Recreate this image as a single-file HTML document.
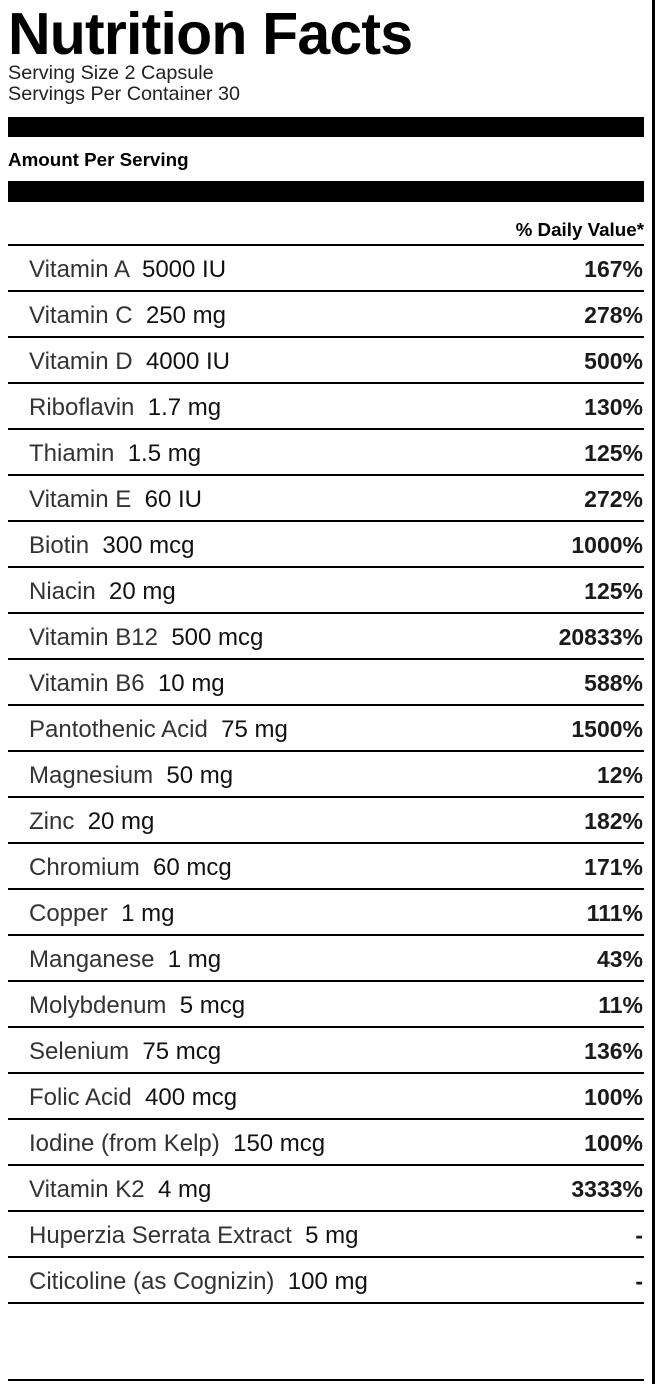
<!DOCTYPE html>
<html>
<head>
<meta charset="utf-8">
<style>
  html,body{margin:0;padding:0;background:#fff;}
  body{width:658px;height:1384px;position:relative;overflow:hidden;font-family:"Liberation Sans",Arial,sans-serif;}
  .abs{position:absolute;white-space:nowrap;}
  .title{left:8px;top:5px;font-size:59px;line-height:59px;font-weight:bold;letter-spacing:-0.8px;color:#000;}
  .sub{left:8px;font-size:19.8px;line-height:20px;color:#222;}
  .bar{position:absolute;left:8px;width:636px;background:#000;}
  .line{position:absolute;left:8px;width:636px;height:2px;background:#000;}
  .hdr{font-weight:bold;color:#000;}
  .row{position:absolute;left:8px;width:636px;height:44px;line-height:44px;}
  .name{position:absolute;left:21px;top:2px;font-size:24px;color:#333;white-space:pre;}
  .name b{font-weight:normal;color:#111;}
  .pct{position:absolute;right:1px;top:1px;font-size:23px;font-weight:bold;color:#1a1a1a;}
  .vborder{position:absolute;left:652px;top:0;width:3px;height:1384px;background:#000;}
</style>
</head>
<body>
<div class="abs title">Nutrition Facts</div>
<div class="abs sub" style="top:63px;">Serving Size 2 Capsule</div>
<div class="abs sub" style="top:84px;">Servings Per Container 30</div>

<div class="bar" style="top:117px;height:20px;"></div>
<div class="abs hdr" style="left:8px;top:150px;font-size:18.8px;line-height:19px;">Amount Per Serving</div>
<div class="bar" style="top:181px;height:21px;"></div>
<div class="abs hdr" style="right:14px;top:220px;font-size:18.8px;line-height:19px;">% Daily Value*</div>

<div class="line" style="top:244px;"></div>
<div class="row" style="top:246px;"><span class="name">Vitamin A  <b>5000 IU</b></span><span class="pct">167%</span></div>
<div class="line" style="top:290px;"></div>
<div class="row" style="top:292px;"><span class="name">Vitamin C  <b>250 mg</b></span><span class="pct">278%</span></div>
<div class="line" style="top:336px;"></div>
<div class="row" style="top:338px;"><span class="name">Vitamin D  <b>4000 IU</b></span><span class="pct">500%</span></div>
<div class="line" style="top:382px;"></div>
<div class="row" style="top:384px;"><span class="name">Riboflavin  <b>1.7 mg</b></span><span class="pct">130%</span></div>
<div class="line" style="top:428px;"></div>
<div class="row" style="top:430px;"><span class="name">Thiamin  <b>1.5 mg</b></span><span class="pct">125%</span></div>
<div class="line" style="top:474px;"></div>
<div class="row" style="top:476px;"><span class="name">Vitamin E  <b>60 IU</b></span><span class="pct">272%</span></div>
<div class="line" style="top:520px;"></div>
<div class="row" style="top:522px;"><span class="name">Biotin  <b>300 mcg</b></span><span class="pct">1000%</span></div>
<div class="line" style="top:566px;"></div>
<div class="row" style="top:568px;"><span class="name">Niacin  <b>20 mg</b></span><span class="pct">125%</span></div>
<div class="line" style="top:612px;"></div>
<div class="row" style="top:614px;"><span class="name">Vitamin B12  <b>500 mcg</b></span><span class="pct">20833%</span></div>
<div class="line" style="top:658px;"></div>
<div class="row" style="top:660px;"><span class="name">Vitamin B6  <b>10 mg</b></span><span class="pct">588%</span></div>
<div class="line" style="top:704px;"></div>
<div class="row" style="top:706px;"><span class="name">Pantothenic Acid  <b>75 mg</b></span><span class="pct">1500%</span></div>
<div class="line" style="top:750px;"></div>
<div class="row" style="top:752px;"><span class="name">Magnesium  <b>50 mg</b></span><span class="pct">12%</span></div>
<div class="line" style="top:796px;"></div>
<div class="row" style="top:798px;"><span class="name">Zinc  <b>20 mg</b></span><span class="pct">182%</span></div>
<div class="line" style="top:842px;"></div>
<div class="row" style="top:844px;"><span class="name">Chromium  <b>60 mcg</b></span><span class="pct">171%</span></div>
<div class="line" style="top:888px;"></div>
<div class="row" style="top:890px;"><span class="name">Copper  <b>1 mg</b></span><span class="pct">111%</span></div>
<div class="line" style="top:934px;"></div>
<div class="row" style="top:936px;"><span class="name">Manganese  <b>1 mg</b></span><span class="pct">43%</span></div>
<div class="line" style="top:980px;"></div>
<div class="row" style="top:982px;"><span class="name">Molybdenum  <b>5 mcg</b></span><span class="pct">11%</span></div>
<div class="line" style="top:1026px;"></div>
<div class="row" style="top:1028px;"><span class="name">Selenium  <b>75 mcg</b></span><span class="pct">136%</span></div>
<div class="line" style="top:1072px;"></div>
<div class="row" style="top:1074px;"><span class="name">Folic Acid  <b>400 mcg</b></span><span class="pct">100%</span></div>
<div class="line" style="top:1118px;"></div>
<div class="row" style="top:1120px;"><span class="name">Iodine (from Kelp)  <b>150 mcg</b></span><span class="pct">100%</span></div>
<div class="line" style="top:1164px;"></div>
<div class="row" style="top:1166px;"><span class="name">Vitamin K2  <b>4 mg</b></span><span class="pct">3333%</span></div>
<div class="line" style="top:1210px;"></div>
<div class="row" style="top:1212px;"><span class="name">Huperzia Serrata Extract  <b>5 mg</b></span><span class="pct">-</span></div>
<div class="line" style="top:1256px;"></div>
<div class="row" style="top:1258px;"><span class="name">Citicoline (as Cognizin)  <b>100 mg</b></span><span class="pct">-</span></div>
<div class="line" style="top:1302px;"></div>

<div class="line" style="top:1379px;"></div>
<div class="vborder"></div>
</body>
</html>
